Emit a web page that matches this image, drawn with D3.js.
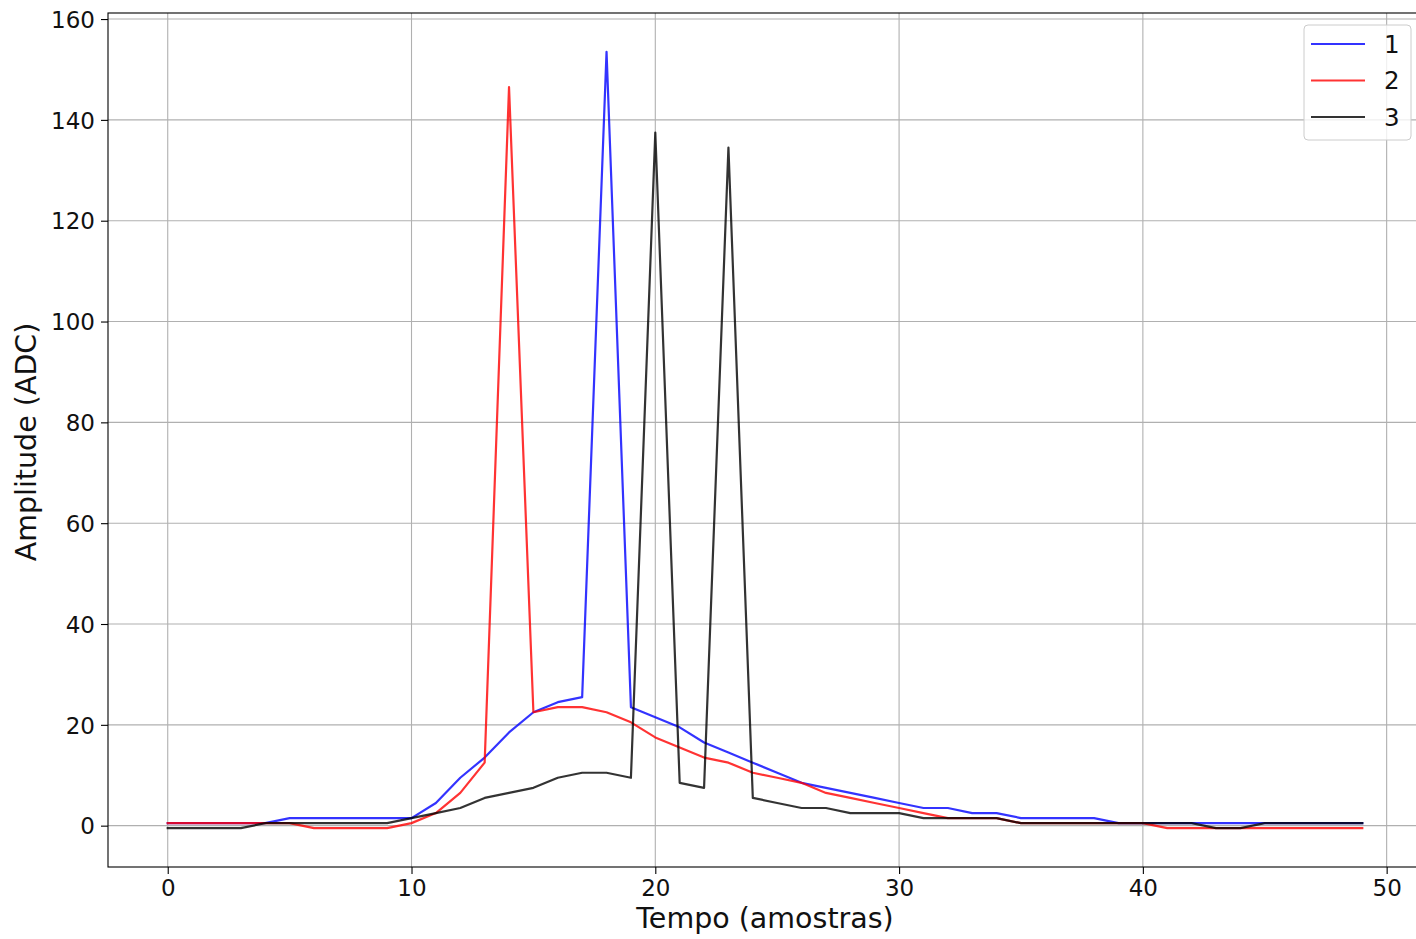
<!DOCTYPE html>
<html><head><meta charset="utf-8">
<script src="https://cdn.jsdelivr.net/npm/d3@7"></script>
<style>body{margin:0;background:#fff}svg{display:block}text{font-family:"DejaVu Sans",sans-serif}</style>
</head><body><svg id="c" width="1416" height="939"></svg>
<script>
const samples = d3.range(0, 50);
const series1 = [0.5,0.5,0.5,0.5,0.5,1.5,1.5,1.5,1.5,1.5,1.5,4.5,9.5,13.5,18.5,22.5,24.5,25.5,153.5,23.5,21.5,19.5,16.5,14.5,12.5,10.5,8.5,7.5,6.5,5.5,4.5,3.5,3.5,2.5,2.5,1.5,1.5,1.5,1.5,0.5,0.5,0.5,0.5,0.5,0.5,0.5,0.5,0.5,0.5,0.5];
const series2 = [0.5,0.5,0.5,0.5,0.5,0.5,-0.5,-0.5,-0.5,-0.5,0.5,2.5,6.5,12.5,146.5,22.5,23.5,23.5,22.5,20.5,17.5,15.5,13.5,12.5,10.5,9.5,8.5,6.5,5.5,4.5,3.5,2.5,1.5,1.5,1.5,0.5,0.5,0.5,0.5,0.5,0.5,-0.5,-0.5,-0.5,-0.5,-0.5,-0.5,-0.5,-0.5,-0.5];
const series3 = [-0.5,-0.5,-0.5,-0.5,0.5,0.5,0.5,0.5,0.5,0.5,1.5,2.5,3.5,5.5,6.5,7.5,9.5,10.5,10.5,9.5,137.5,8.5,7.5,134.5,5.5,4.5,3.5,3.5,2.5,2.5,2.5,1.5,1.5,1.5,1.5,0.5,0.5,0.5,0.5,0.5,0.5,0.5,0.5,-0.5,-0.5,0.5,0.5,0.5,0.5,0.5];
const seriesNames = ["1","2","3"];
const seriesColors = ["#0000ff","#ff0000","#000000"];
const xTicks = [0,10,20,30,40,50];
const yTicks = [0,20,40,60,80,100,120,140,160];
const xLabel = "Tempo (amostras)";
const yLabel = "Amplitude (ADC)";

const allSeries = [series1, series2, series3];
const svg = d3.select("#c");
const L = 108, R = 1422, T = 13, B = 867;
const allVals = allSeries.flat();
const ymin = d3.min(allVals), ymax = d3.max(allVals), yr = ymax - ymin;
const x = d3.scaleLinear().domain([-2.45, 51.45]).range([L, R]);
const y = d3.scaleLinear().domain([ymin - 0.05*yr, ymax + 0.05*yr]).range([B, T]);

// grid
const g = svg.append("g");
g.selectAll(".gx").data(xTicks).join("line")
  .attr("x1", d => x(d)).attr("x2", d => x(d)).attr("y1", T).attr("y2", B)
  .attr("stroke", "#b0b0b0").attr("stroke-width", 1.1);
g.selectAll(".gy").data(yTicks).join("line")
  .attr("x1", L).attr("x2", R).attr("y1", d => y(d)).attr("y2", d => y(d))
  .attr("stroke", "#b0b0b0").attr("stroke-width", 1.1);

// lines
const line = d3.line().x((d, i) => x(samples[i])).y(d => y(d));
allSeries.forEach((s, k) => {
  svg.append("path").datum(s).attr("d", line)
    .attr("fill", "none").attr("stroke", seriesColors[k])
    .attr("stroke-opacity", 0.8).attr("stroke-width", 2.2)
    .attr("stroke-linejoin", "round").attr("stroke-linecap", "square");
});

// axes
const xAxis = d3.axisBottom(x).tickValues(xTicks).tickSize(7).tickPadding(6).tickFormat(d3.format("d"));
const yAxis = d3.axisLeft(y).tickValues(yTicks).tickSize(7).tickPadding(6).tickFormat(d3.format("d"));
const ax = svg.append("g").attr("transform", `translate(0,${B})`).call(xAxis);
const ay = svg.append("g").attr("transform", `translate(${L},0)`).call(yAxis);
[ax, ay].forEach(a => {
  a.select(".domain").remove();
  a.selectAll("line").attr("stroke", "#000").attr("stroke-width", 1.1);
  a.selectAll("text").attr("font-size", 23).attr("fill", "#111").attr("font-family", "DejaVu Sans");
});
ay.selectAll("text").attr("dy", "0.36em");

// spines
svg.append("rect").attr("x", L).attr("y", T).attr("width", R - L).attr("height", B - T)
  .attr("fill", "none").attr("stroke", "#000").attr("stroke-width", 1.1);

// axis labels
svg.append("text").attr("x", (L + R) / 2).attr("y", 928).attr("text-anchor", "middle")
  .attr("font-size", 28.5).attr("fill", "#111").text(xLabel);
svg.append("text").attr("transform", `translate(36,${(T + B) / 2 + 2}) rotate(-90)`).attr("text-anchor", "middle")
  .attr("font-size", 28.5).attr("fill", "#111").text(yLabel);

// legend
const lg = svg.append("g");
lg.append("rect").attr("x", 1304).attr("y", 25).attr("width", 107).attr("height", 115).attr("rx", 4)
  .attr("fill", "#fff").attr("fill-opacity", 0.8).attr("stroke", "#cccccc").attr("stroke-width", 1);
seriesNames.forEach((n, k) => {
  const yy = 44 + k * 36.5;
  lg.append("line").attr("x1", 1311).attr("x2", 1365).attr("y1", yy).attr("y2", yy)
    .attr("stroke", seriesColors[k]).attr("stroke-opacity", 0.8).attr("stroke-width", 2.2);
  lg.append("text").attr("x", 1384).attr("y", yy).attr("dy", "0.36em")
    .attr("font-size", 24.5).attr("fill", "#111").text(n);
});
</script></body></html>
